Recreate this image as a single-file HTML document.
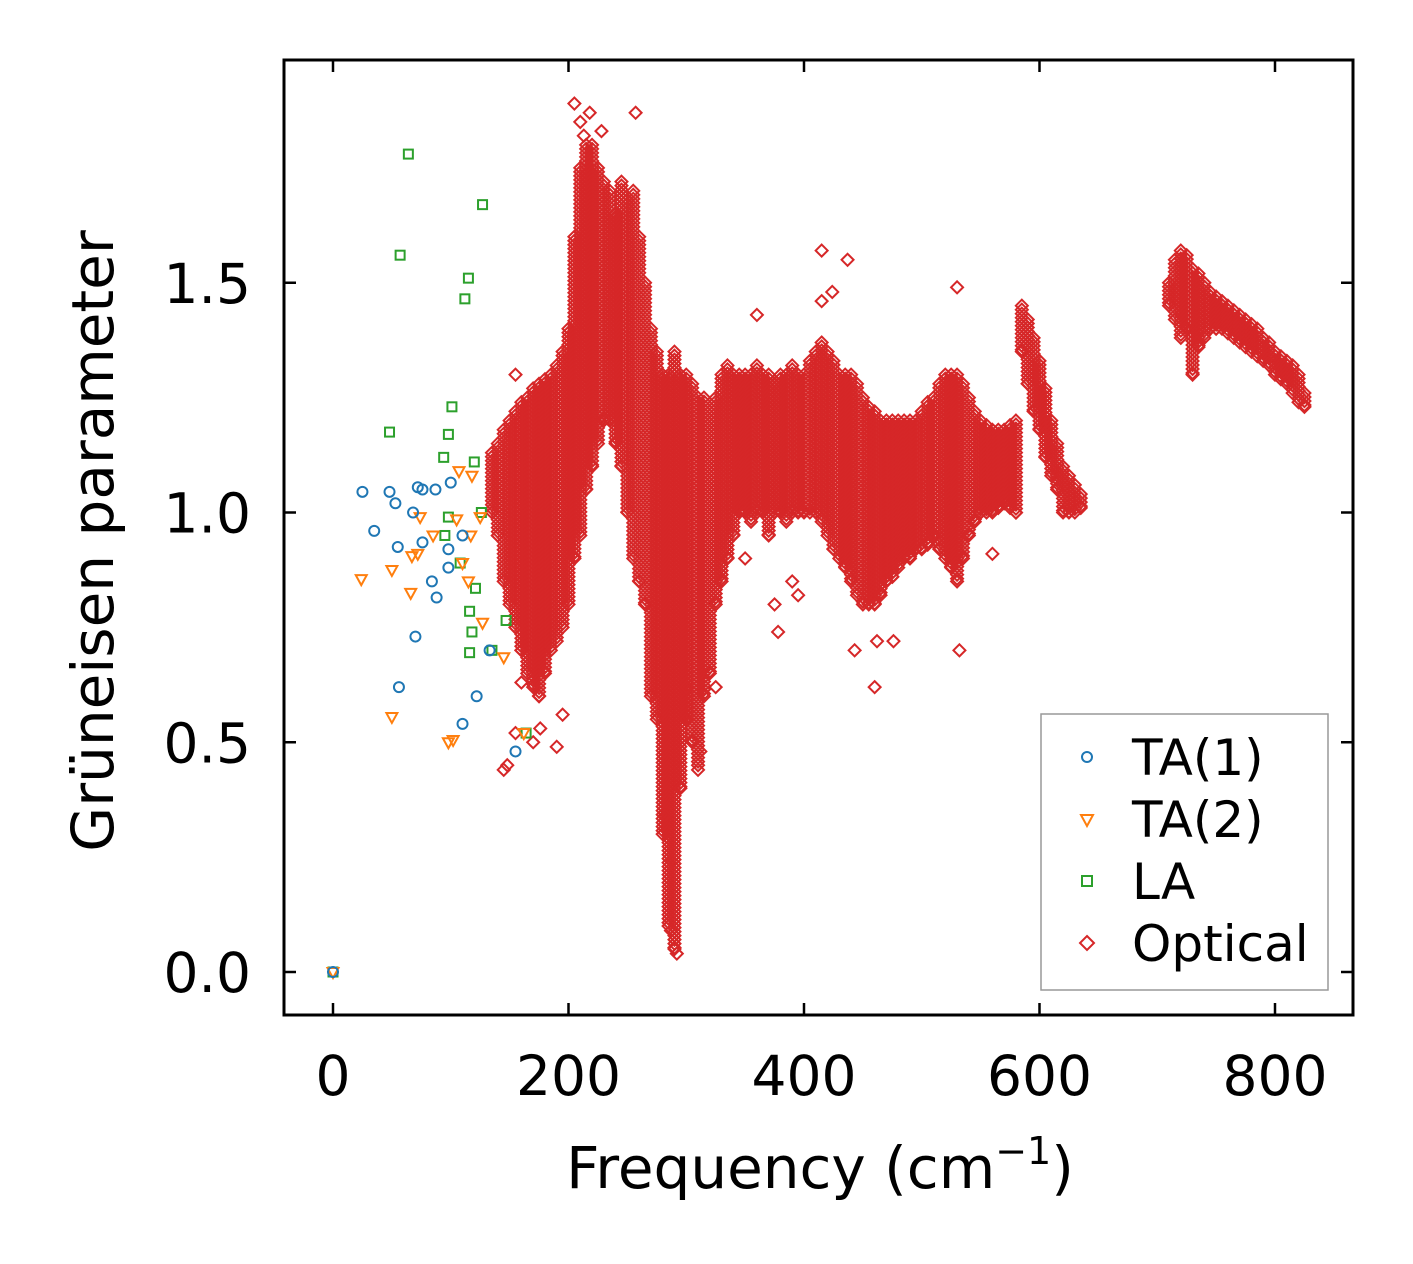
<!DOCTYPE html>
<html><head><meta charset="utf-8"><style>
html,body{margin:0;padding:0;background:#fff;}
svg{display:block;font-family:"DejaVu Sans","Liberation Sans",sans-serif;}
</style></head><body>
<svg id="chart" width="1413" height="1264" viewBox="0 0 1413 1264" xmlns="http://www.w3.org/2000/svg">
<rect x="0" y="0" width="1413" height="1264" fill="#fff"/>
<g id="marks"></g>
<g id="axes"></g>
<text x="820" y="1188" font-size="58" text-anchor="middle" fill="#000">Frequency (cm<tspan font-size="38" dy="-24">−1</tspan><tspan dy="24">)</tspan></text>
<text transform="translate(113,541) rotate(-90)" font-size="58" text-anchor="middle" fill="#000">Grüneisen parameter</text>
<g>
<rect x="1041" y="714" width="287" height="276" fill="#fff" stroke="#999" stroke-width="1.5"/>
<circle cx="1087" cy="757" r="5" fill="none" stroke="#1f77b4" stroke-width="2"/>
<text x="1132" y="775" font-size="50">TA(1)</text>
<path d="M1081,815 L1093,815 L1087,826 Z" fill="none" stroke="#ff7f0e" stroke-width="2"/>
<text x="1132" y="837" font-size="50">TA(2)</text>
<rect x="1082" y="876" width="10" height="10" fill="none" stroke="#2ca02c" stroke-width="2"/>
<text x="1132" y="899" font-size="50">LA</text>
<path d="M1087,936 L1094,943 L1087,950 L1080,943 Z" fill="none" stroke="#d62728" stroke-width="2"/>
<text x="1132" y="961" font-size="50">Optical</text>
</g>
</svg>
<script>
const xTicks=[0,200,400,600,800];
const yTicks=[0.0,0.5,1.0,1.5];
const yTickLabels=["0.0","0.5","1.0","1.5"];
const ta1=[[0,0],[25,1.045],[35,0.96],[48,1.045],[53,1.02],[55,0.925],[56,0.62],[68,1.0],[70,0.73],[72,1.055],[76,1.05],[76,0.935],[84,0.85],[87,1.05],[88,0.815],[98,0.92],[98,0.88],[100,1.065],[110,0.95],[110,0.54],[122,0.6],[133,0.70],[155,0.48]];
const ta2=[[0,0],[24,0.855],[50,0.875],[50,0.555],[66,0.825],[67,0.905],[72,0.91],[74,0.99],[85,0.95],[98,0.50],[102,0.505],[105,0.985],[107,1.09],[110,0.89],[115,0.85],[117,0.95],[118,1.08],[125,0.99],[127,0.76],[145,0.685],[162,0.52]];
const la=[[0,0],[48,1.175],[57,1.56],[64,1.78],[94,1.12],[95,0.95],[98,1.17],[98,0.99],[101,1.23],[108,0.89],[112,1.465],[115,1.51],[116,0.695],[116,0.785],[118,0.74],[120,1.11],[121,0.835],[126,1.0],[127,1.67],[135,0.70],[147,0.765],[164,0.52]];
// optical dense bands: [freq, gammaMin, gammaMax]
const opticalBands=[[135,1.0,1.13],[140,0.95,1.15],[145,0.85,1.18],[150,0.8,1.2],[155,0.75,1.22],[160,0.7,1.24],[165,0.65,1.25],[170,0.62,1.27],[175,0.6,1.28],[180,0.65,1.29],[185,0.7,1.3],[190,0.72,1.32],[195,0.75,1.35],[200,0.8,1.4],[205,0.9,1.6],[210,0.95,1.75],[215,1.05,1.8],[220,1.1,1.8],[225,1.15,1.75],[230,1.2,1.72],[235,1.2,1.7],[240,1.15,1.65],[245,1.1,1.72],[250,1.0,1.68],[255,0.9,1.7],[260,0.85,1.6],[265,0.8,1.5],[270,0.6,1.4],[275,0.55,1.35],[280,0.3,1.3],[285,0.1,1.3],[290,0.05,1.35],[295,0.4,1.3],[300,0.55,1.3],[305,0.5,1.28],[310,0.45,1.25],[315,0.6,1.25],[320,0.65,1.22],[325,0.8,1.25],[330,0.85,1.3],[335,0.9,1.32],[340,0.95,1.3],[345,1.0,1.3],[350,1.0,1.3],[355,0.98,1.3],[360,1.0,1.32],[365,1.0,1.3],[370,0.95,1.3],[375,1.0,1.28],[380,1.0,1.3],[385,0.98,1.3],[390,1.0,1.32],[395,1.0,1.3],[400,1.0,1.3],[405,1.0,1.33],[410,1.0,1.35],[415,0.98,1.37],[420,0.95,1.35],[425,0.92,1.33],[430,0.9,1.3],[435,0.88,1.3],[440,0.85,1.3],[445,0.82,1.28],[450,0.8,1.25],[455,0.8,1.23],[460,0.8,1.22],[465,0.82,1.2],[470,0.85,1.2],[475,0.86,1.2],[480,0.88,1.2],[485,0.9,1.2],[490,0.9,1.2],[495,0.92,1.2],[500,0.92,1.22],[505,0.93,1.24],[510,0.95,1.25],[515,0.92,1.28],[520,0.9,1.3],[525,0.88,1.3],[530,0.85,1.3],[535,0.9,1.28],[540,0.95,1.25],[545,0.98,1.22],[550,1.0,1.2],[555,1.0,1.19],[560,1.0,1.18],[565,1.01,1.18],[570,1.02,1.18],[575,1.01,1.19],[580,1.0,1.2],[585,1.35,1.45],[590,1.28,1.42],[595,1.22,1.38],[600,1.18,1.33],[605,1.12,1.27],[610,1.08,1.2],[615,1.05,1.15],[620,1.0,1.1],[625,1.0,1.08],[630,1.0,1.06],[635,1.01,1.04],[710,1.45,1.5],[715,1.42,1.55],[720,1.38,1.57],[725,1.4,1.56],[730,1.3,1.53],[735,1.36,1.52],[740,1.38,1.5],[745,1.4,1.48],[750,1.4,1.47],[755,1.4,1.46],[760,1.39,1.45],[765,1.38,1.44],[770,1.37,1.43],[775,1.36,1.42],[780,1.35,1.41],[785,1.34,1.4],[790,1.33,1.38],[795,1.32,1.37],[800,1.3,1.35],[805,1.29,1.34],[810,1.28,1.33],[815,1.26,1.32],[820,1.24,1.3],[825,1.23,1.26]];
// scattered optical points
const opticalPts=[[205,1.89],[210,1.85],[218,1.87],[257,1.87],[213,1.82],[228,1.83],[155,1.30],[145,0.44],[148,0.45],[155,0.52],[160,0.63],[170,0.50],[176,0.53],[190,0.49],[195,0.56],[282,0.34],[288,0.24],[292,0.04],[287,0.09],[300,0.62],[310,0.44],[312,0.48],[325,0.62],[378,0.74],[395,0.82],[415,1.57],[424,1.48],[437,1.55],[443,0.70],[460,0.62],[462,0.72],[476,0.72],[530,1.49],[532,0.70],[560,0.91],[415,1.46],[360,1.43],[390,0.85],[350,0.9],[375,0.8]];
const X0=333,XS=1.1775,Y0=972,YS=459.5;
const sx=v=>X0+v*XS, sy=v=>Y0-v*YS;
const NS="http://www.w3.org/2000/svg";
const marks=document.getElementById('marks'), axes=document.getElementById('axes');
function mk(tag,attrs,parent){const e=document.createElementNS(NS,tag);for(const k in attrs)e.setAttribute(k,attrs[k]);parent.appendChild(e);return e;}
function diamond(x,y,name){
  const d=mk('path',{d:`M${x},${y-6} L${x+6},${y} L${x},${y+6} L${x-6},${y} Z`,fill:'none',stroke:'#d62728','stroke-width':2},marks);
  
  
}
opticalBands.forEach(b=>{
  const x=sx(b[0]),y1=sy(b[2]),y2=sy(b[1]);
  for(let y=y1;y<=y2+0.1;y+=4){diamond(x,y,'optical-point');}
  diamond(x,y2,'optical-point');
});
opticalPts.forEach(p=>diamond(sx(p[0]),sy(p[1]),'optical-point'));
la.forEach(p=>{const x=sx(p[0]),y=sy(p[1]);
  const e=mk('rect',{x:x-4.5,y:y-4.5,width:9,height:9,fill:'none',stroke:'#2ca02c','stroke-width':2},marks);
  
  });
ta2.forEach(p=>{const x=sx(p[0]),y=sy(p[1]);
  const e=mk('path',{d:`M${x-5.5},${y-4} L${x+5.5},${y-4} L${x},${y+6} Z`,fill:'none',stroke:'#ff7f0e','stroke-width':2},marks);
  
  });
ta1.forEach(p=>{const x=sx(p[0]),y=sy(p[1]);
  const e=mk('circle',{cx:x,cy:y,r:5,fill:'none',stroke:'#1f77b4','stroke-width':2},marks);
  
  });
const fr=mk('rect',{x:284,y:60,width:1069,height:955,fill:'none',stroke:'#000','stroke-width':3},axes);


xTicks.forEach(t=>{const x=sx(t);
  mk('line',{x1:x,y1:1015,x2:x,y2:1003,stroke:'#000','stroke-width':2.5},axes);
  mk('line',{x1:x,y1:60,x2:x,y2:72,stroke:'#000','stroke-width':2.5},axes);
  const tx=mk('text',{x:x,y:1095,'font-size':55,'text-anchor':'middle'},axes);tx.textContent=String(t);
  
  });
yTicks.forEach((t,i)=>{const y=sy(t);
  mk('line',{x1:284,y1:y,x2:296,y2:y,stroke:'#000','stroke-width':2.5},axes);
  mk('line',{x1:1353,y1:y,x2:1341,y2:y,stroke:'#000','stroke-width':2.5},axes);
  const tx=mk('text',{x:251,y:y+20,'font-size':55,'text-anchor':'end'},axes);tx.textContent=yTickLabels[i];
  
  });
</script>
</body></html>
